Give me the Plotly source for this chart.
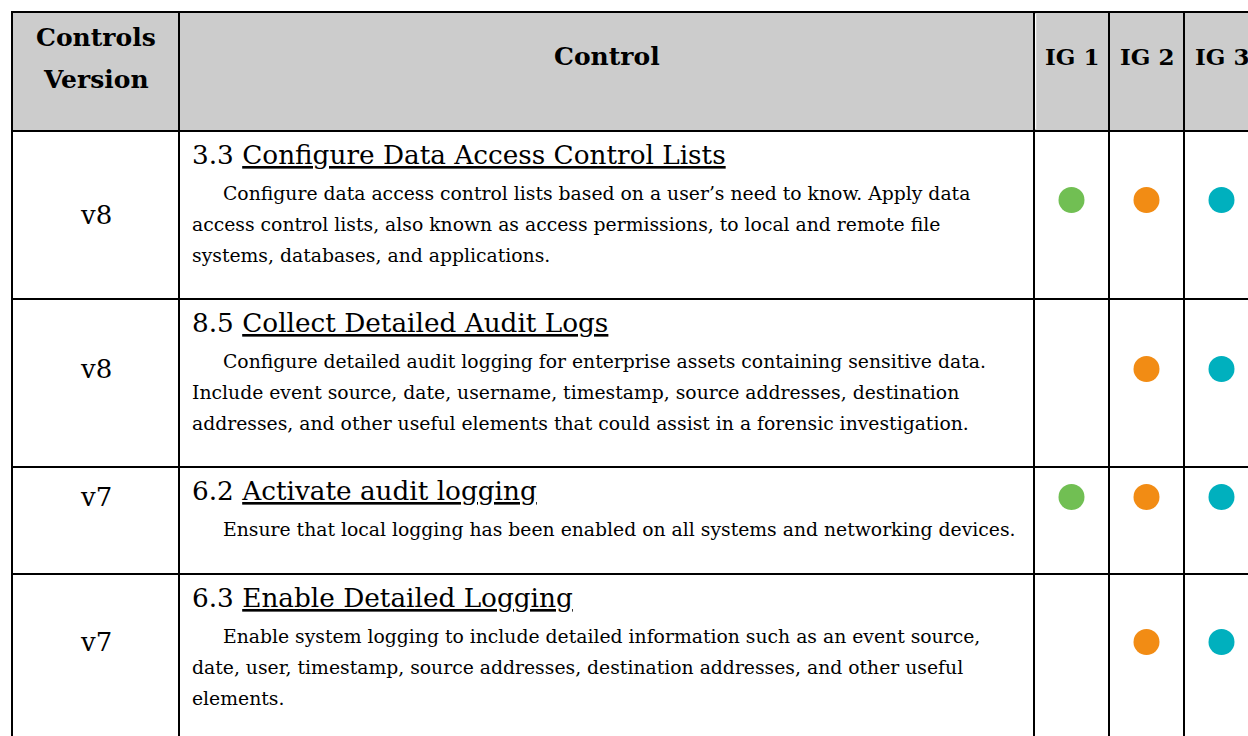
import plotly.graph_objects as go

# ---------------- data ----------------
header_labels = ["Controls", "Version", "Control", "IG 1", "IG 2", "IG 3"]
versions = ["v8", "v8", "v7", "v7"]
control_ids = ["3.3", "8.5", "6.2", "6.3"]
control_titles = [
    "Configure Data Access Control Lists",
    "Collect Detailed Audit Logs",
    "Activate audit logging",
    "Enable Detailed Logging",
]
desc_3_3 = [
    "Configure data access control lists based on a user’s need to know. Apply data",
    "access control lists, also known as access permissions, to local and remote file",
    "systems, databases, and applications.",
]
desc_8_5 = [
    "Configure detailed audit logging for enterprise assets containing sensitive data.",
    "Include event source, date, username, timestamp, source addresses, destination",
    "addresses, and other useful elements that could assist in a forensic investigation.",
]
desc_6_2 = [
    "Ensure that local logging has been enabled on all systems and networking devices.",
]
desc_6_3 = [
    "Enable system logging to include detailed information such as an event source,",
    "date, user, timestamp, source addresses, destination addresses, and other useful",
    "elements.",
]
descriptions = [desc_3_3, desc_8_5, desc_6_2, desc_6_3]
ig1_flags = [1, 0, 1, 0]
ig2_flags = [1, 1, 1, 1]
ig3_flags = [1, 1, 1, 1]
ig_colors = ["#71bf53", "#f28c14", "#00b0be"]

# ---------------- layout constants ----------------
W, H = 1248, 736
col_edges = [12, 179, 1034, 1109, 1184, 1259]
row_edges = [12, 131, 299, 467, 574, 745]
header_fill = "#cccccc"
font_family = "DejaVu Serif"
label_offsets = [84, 70, 30, 68]
dot_offsets = [69, 70, 30, 68]
title_offset = 24
desc_first_offset = 62
desc_spacing = 31
text_left = 190
indent = 31
hdr_font = dict(size=25, family=font_family, color="black")
ig_font = dict(size=23, family=font_family, color="black")
ver_font = dict(size=26, family=font_family, color="black")
title_font = dict(size=26.3, family=font_family, color="black")
desc_font = dict(size=18.8, family=font_family, color="black")

fig = go.Figure()
shapes = []
shapes.append(dict(type="rect", xref="x", yref="y", x0=col_edges[0], x1=col_edges[-1],
                   y0=row_edges[0], y1=row_edges[1], fillcolor=header_fill, line_width=0, layer="below"))
for yv in row_edges[:-1]:
    shapes.append(dict(type="line", xref="x", yref="y", x0=col_edges[0] - 1, x1=col_edges[-1],
                       y0=yv, y1=yv, line=dict(color="black", width=2)))
for xv in col_edges[:-1]:
    shapes.append(dict(type="line", xref="x", yref="y", x0=xv, x1=xv,
                       y0=row_edges[0] - 1, y1=row_edges[-1], line=dict(color="black", width=2)))
shapes.append(dict(type="line", xref="x", yref="y", x0=col_edges[2] + 1.6, x1=col_edges[2] + 1.6,
                   y0=row_edges[0] + 2, y1=row_edges[1] - 2, line=dict(color="white", width=1.2)))

annotations = []
col_centers = [(col_edges[i] + col_edges[i + 1]) / 2 for i in range(len(col_edges) - 1)]
annotations.append(dict(x=col_centers[0], y=37, text="<b>%s</b>" % header_labels[0], font=hdr_font))
annotations.append(dict(x=col_centers[0], y=79, text="<b>%s</b>" % header_labels[1], font=hdr_font))
annotations.append(dict(x=col_centers[1], y=56, text="<b>%s</b>" % header_labels[2], font=hdr_font))
for i in range(2, 5):
    annotations.append(dict(x=col_centers[i], y=56, text="<b>%s</b>" % header_labels[i + 1], font=ig_font))

row_tops = row_edges[1:5]
for r in range(4):
    top = row_tops[r]
    annotations.append(dict(x=col_centers[0], y=top + label_offsets[r], text=versions[r], font=ver_font))
    annotations.append(dict(x=text_left, y=top + title_offset, xanchor="left",
                            text="%s <u>%s</u>" % (control_ids[r], control_titles[r]), font=title_font))
    for j, line in enumerate(descriptions[r]):
        annotations.append(dict(x=text_left + (indent if j == 0 else 0),
                                y=top + desc_first_offset + j * desc_spacing, xanchor="left",
                                text=line, font=desc_font))

for a in annotations:
    a.setdefault("xanchor", "center")
    a.update(xref="x", yref="y", yanchor="middle", showarrow=False)

for k, flags in enumerate([ig1_flags, ig2_flags, ig3_flags]):
    ys = [row_tops[r] + dot_offsets[r] for r in range(4) if flags[r]]
    fig.add_trace(go.Scatter(x=[col_centers[2 + k]] * len(ys), y=ys, mode="markers",
                             marker=dict(size=26, color=ig_colors[k], line_width=0),
                             hoverinfo="skip", showlegend=False))

fig.update_layout(
    width=W, height=H, margin=dict(l=0, r=0, t=0, b=0),
    paper_bgcolor="white", plot_bgcolor="white",
    xaxis=dict(range=[0, W], visible=False, fixedrange=True),
    yaxis=dict(range=[H, 0], visible=False, fixedrange=True),
    shapes=shapes, annotations=annotations, showlegend=False,
)
fig.write_html("out.html", config={"displayModeBar": False},
               post_script="document.body.style.margin='0';document.body.style.overflow='hidden';")
